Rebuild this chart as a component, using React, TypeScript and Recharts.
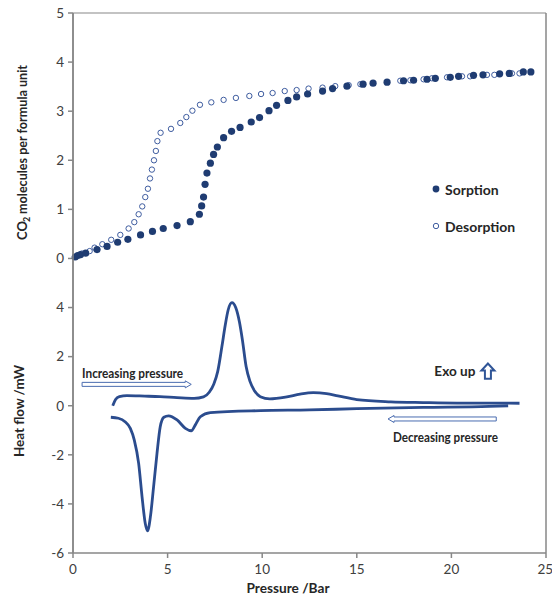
import React from 'react';
import { ScatterChart, Scatter, LineChart, Line, XAxis, YAxis, ReferenceLine, ReferenceDot, Legend } from 'recharts';

// CO2 uptake, sorption branch (pressure / bar, molecules per formula unit)
const sorptionP = [0.12, 0.25, 0.4, 0.67, 1.27, 1.8, 2.36, 2.9, 3.57, 4.2, 4.77, 5.5, 6.2, 6.68, 6.8, 6.9, 6.98, 7.08, 7.26, 7.43, 7.63, 7.96, 8.38, 8.83, 9.42, 9.86, 10.36, 10.76, 11.36, 11.82, 12.4, 13.19, 13.72, 14.48, 15.33, 15.86, 16.6, 17.47, 18.0, 18.71, 19.15, 19.94, 20.38, 21.17, 21.67, 22.55, 23.06, 23.8, 24.2];
const sorptionN = [0.03, 0.06, 0.08, 0.11, 0.18, 0.245, 0.33, 0.39, 0.48, 0.55, 0.61, 0.67, 0.75, 0.9, 1.07, 1.25, 1.51, 1.74, 1.94, 2.12, 2.27, 2.46, 2.59, 2.67, 2.78, 2.87, 3.01, 3.12, 3.22, 3.29, 3.35, 3.41, 3.46, 3.51, 3.55, 3.57, 3.59, 3.62, 3.63, 3.65, 3.67, 3.69, 3.71, 3.73, 3.74, 3.76, 3.77, 3.8, 3.8];

// desorption branch
const desorptionP = [0.1, 0.47, 0.88, 1.14, 1.55, 2.02, 2.5, 2.94, 3.24, 3.47, 3.66, 3.82, 3.96, 4.07, 4.17, 4.28, 4.38, 4.46, 4.63, 5.18, 5.67, 5.99, 6.31, 6.71, 7.31, 7.96, 8.61, 9.32, 9.94, 10.55, 11.19, 11.82, 12.45, 13.19, 13.86, 14.57, 15.19, 17.3, 17.83, 18.53, 18.97, 19.77, 20.56, 20.99, 21.88, 22.27, 23.2, 23.6];
const desorptionN = [0.03, 0.1, 0.15, 0.22, 0.29, 0.38, 0.48, 0.61, 0.74, 0.9, 1.06, 1.25, 1.42, 1.63, 1.81, 2.0, 2.19, 2.39, 2.56, 2.64, 2.76, 2.88, 3.01, 3.13, 3.18, 3.23, 3.27, 3.31, 3.35, 3.37, 3.41, 3.43, 3.46, 3.48, 3.51, 3.53, 3.55, 3.62, 3.63, 3.65, 3.67, 3.69, 3.71, 3.71, 3.74, 3.74, 3.77, 3.77];

// heat flow, increasing pressure (mW)
const heatUpP = [2.1, 2.25, 2.45, 2.85, 3.8, 4.6, 5.5, 6.4, 6.9, 7.2, 7.45, 7.65, 7.87, 8.05, 8.2, 8.4, 8.6, 8.8, 8.95, 9.15, 9.35, 9.6, 9.9, 10.4, 11.3, 12.0, 12.7, 13.4, 14.0, 15.0, 16.8, 18.5, 20.3, 22.0, 23.6];
const heatUpQ = [0.0, 0.25, 0.37, 0.41, 0.39, 0.37, 0.33, 0.3, 0.36, 0.55, 0.9, 1.4, 2.41, 3.3, 3.9, 4.2, 4.0, 3.4, 2.7, 1.6, 1.0, 0.6, 0.37, 0.28, 0.36, 0.47, 0.53, 0.49, 0.4, 0.25, 0.16, 0.13, 0.11, 0.11, 0.1];

// heat flow, decreasing pressure (mW)
const heatDownP = [2.0, 2.4, 2.75, 3.03, 3.24, 3.47, 3.65, 3.82, 3.94, 4.09, 4.26, 4.44, 4.61, 4.8, 5.05, 5.5, 5.94, 6.25, 6.46, 6.73, 7.26, 9.9, 12.5, 15.0, 18.5, 22.0, 23.0];
const heatDownQ = [-0.47, -0.51, -0.65, -0.92, -1.4, -2.35, -3.71, -4.8, -5.1, -4.53, -3.3, -1.94, -0.86, -0.47, -0.41, -0.58, -0.92, -1.02, -0.79, -0.45, -0.28, -0.2, -0.17, -0.12, -0.07, -0.03, 0.0];

const xTicks = [0, 5, 10, 15, 20, 25];
const uptakeTicks = [0, 1, 2, 3, 4, 5];
const heatTicks = [-6, -4, -2, 0, 2, 4];

const zip = (xs: number[], ys: number[]) => xs.map((x, i) => ({ x, y: ys[i] }));
const sorption = zip(sorptionP, sorptionN);
const desorption = zip(desorptionP, desorptionN);
const heatUp = zip(heatUpP, heatUpQ);
const heatDown = zip(heatDownP, heatDownQ);

const FONT = 'Lato, "Open Sans", sans-serif';
const AXIS = '#878787';
const CURVE = '#2b4c8e';
const DOT = '#1f3c72';
const RING = '#3f5da0';
const TXT = '#262626';
const margin1 = { top: 13, right: 6, bottom: 43, left: 33 };
const margin2 = { top: 13, right: 6, bottom: 13, left: 33 };
const tick = { fill: '#404040', fontSize: 13.5, fontFamily: FONT };

const filled = (p: any) => <circle cx={p.cx} cy={p.cy} r={3.6} fill={DOT} />;
const ring = (p: any) => <circle cx={p.cx} cy={p.cy} r={2.7} fill="#fff" stroke={RING} strokeWidth={1} />;

const hollowArrow = (p: any) => {
  const { x1, y1, x2 } = p;
  const d = x2 > x1 ? 1 : -1;
  const h = x2 - d * 6;
  const pts = [[x1, y1 - 2], [h, y1 - 2], [h, y1 - 3.5], [x2, y1], [h, y1 + 3.5], [h, y1 + 2], [x1, y1 + 2]];
  return <polygon points={pts.map((q) => q.join(',')).join(' ')} fill="#fff" stroke="#4a6cb0" strokeWidth={1} />;
};

const upArrow = (p: any) => {
  const { x1, y1, y2 } = p;
  const h = y2 + 7;
  const pts = [[x1 - 3, y1], [x1 - 3, h], [x1 - 6.5, h], [x1, y2], [x1 + 6.5, h], [x1 + 3, h], [x1 + 3, y1]];
  return <polygon points={pts.map((q) => q.join(',')).join(' ')} fill="#fff" stroke="#2f5597" strokeWidth={2} />;
};

const note = (text: string, len: number) => (p: any) => (
  <text x={p.cx} y={p.cy} fill={TXT} fontSize={12.5} fontWeight="bold" fontFamily={FONT} textLength={len} lengthAdjust="spacingAndGlyphs">{text}</text>
);

const legendContent = () => (
  <div style={{ fontFamily: FONT, fontWeight: 'bold', fontSize: 14, color: TXT }}>
    <div style={{ display: 'flex', alignItems: 'center', height: 18 }}>
      <svg width={10} height={10} style={{ marginRight: 4 }}><circle cx={5} cy={5} r={3.4} fill={DOT} /></svg>Sorption
    </div>
    <div style={{ display: 'flex', alignItems: 'center', height: 18, marginTop: 19 }}>
      <svg width={10} height={10} style={{ marginRight: 4 }}><circle cx={5} cy={5} r={2.7} fill="#fff" stroke={RING} /></svg>Desorption
    </div>
  </div>
);

const uptakeLabel = () => (
  <g transform="translate(27,240) rotate(-90)" fill={TXT} fontWeight="bold" fontFamily={FONT}>
    <text x={0} y={0} fontSize={13}>CO</text>
    <text x={18} y={3} fontSize={9}>2</text>
    <text x={26} y={0} fontSize={13} textLength={149} lengthAdjust="spacingAndGlyphs">molecules per formula unit</text>
  </g>
);

export default function App() {
  return (
    <div style={{ width: 536, height: 580 }}>
      <div style={{ position: 'fixed', left: 0, top: 0, width: 552, height: 596, background: '#fff' }}>
        <div style={{ position: 'absolute', left: 0, top: 0 }}>
          <ScatterChart width={552} height={596} margin={margin1} style={{ overflow: 'visible' }}>
            <XAxis type="number" dataKey="x" domain={[0, 25]} hide />
            <YAxis
              type="number"
              dataKey="y"
              domain={[-6, 5]}
              ticks={uptakeTicks}
              width={40}
              stroke={AXIS}
              strokeWidth={1.5}
              tickSize={5}
              tickMargin={4}
              tick={tick}
              label={{ content: uptakeLabel }}
            />
            <ReferenceLine y={5} stroke={AXIS} strokeWidth={1} />
            <ReferenceLine x={25} stroke={AXIS} strokeWidth={1.5} />
            <Legend layout="vertical" align="center" verticalAlign="middle" content={legendContent} wrapperStyle={{ left: 431, top: 180, width: 100 }} />
            <Scatter name="Desorption" data={desorption} shape={ring} isAnimationActive={false} />
            <Scatter name="Sorption" data={sorption} shape={filled} isAnimationActive={false} />
          </ScatterChart>
        </div>
        <div style={{ position: 'absolute', left: 0, top: 0 }}>
          <LineChart width={552} height={596} margin={margin2} style={{ overflow: 'visible' }}>
            <XAxis
              type="number"
              dataKey="x"
              domain={[0, 25]}
              ticks={xTicks}
              height={30}
              stroke={AXIS}
              strokeWidth={1.5}
              tickSize={5}
              tickMargin={6}
              tick={tick}
              label={{
                content: () => (
                  <text x={288} y={593} textAnchor="middle" fill={TXT} fontSize={13.5} fontWeight="bold" fontFamily={FONT} textLength={83} lengthAdjust="spacingAndGlyphs">Pressure /Bar</text>
                ),
              }}
            />
            <YAxis
              type="number"
              dataKey="y"
              domain={[-6, 16]}
              ticks={heatTicks}
              width={40}
              stroke={AXIS}
              strokeWidth={1.5}
              tickSize={5}
              tickMargin={4}
              tick={tick}
              label={{
                content: () => (
                  <text transform="translate(24,411) rotate(-90)" textAnchor="middle" fill={TXT} fontSize={13.5} fontWeight="bold" fontFamily={FONT} textLength={92} lengthAdjust="spacingAndGlyphs">Heat flow /mW</text>
                ),
              }}
            />
            <Line data={heatUp} dataKey="y" type="monotone" stroke={CURVE} strokeWidth={2.8} dot={false} isAnimationActive={false} />
            <Line data={heatDown} dataKey="y" type="monotone" stroke={CURVE} strokeWidth={2.8} dot={false} isAnimationActive={false} />
            <ReferenceLine segment={[{ x: 0.48, y: 0.87 }, { x: 6.25, y: 0.87 }]} shape={hollowArrow} />
            <ReferenceLine segment={[{ x: 22.37, y: -0.54 }, { x: 16.65, y: -0.54 }]} shape={hollowArrow} />
            <ReferenceLine segment={[{ x: 21.93, y: 1.1 }, { x: 21.93, y: 1.72 }]} shape={upArrow} />
            <ReferenceDot x={0.48} y={1.13} shape={note('Increasing pressure', 101)} />
            <ReferenceDot x={19.1} y={1.22} shape={note('Exo up', 41)} />
            <ReferenceDot x={16.91} y={-1.48} shape={note('Decreasing pressure', 105)} />
          </LineChart>
        </div>
      </div>
    </div>
  );
}
